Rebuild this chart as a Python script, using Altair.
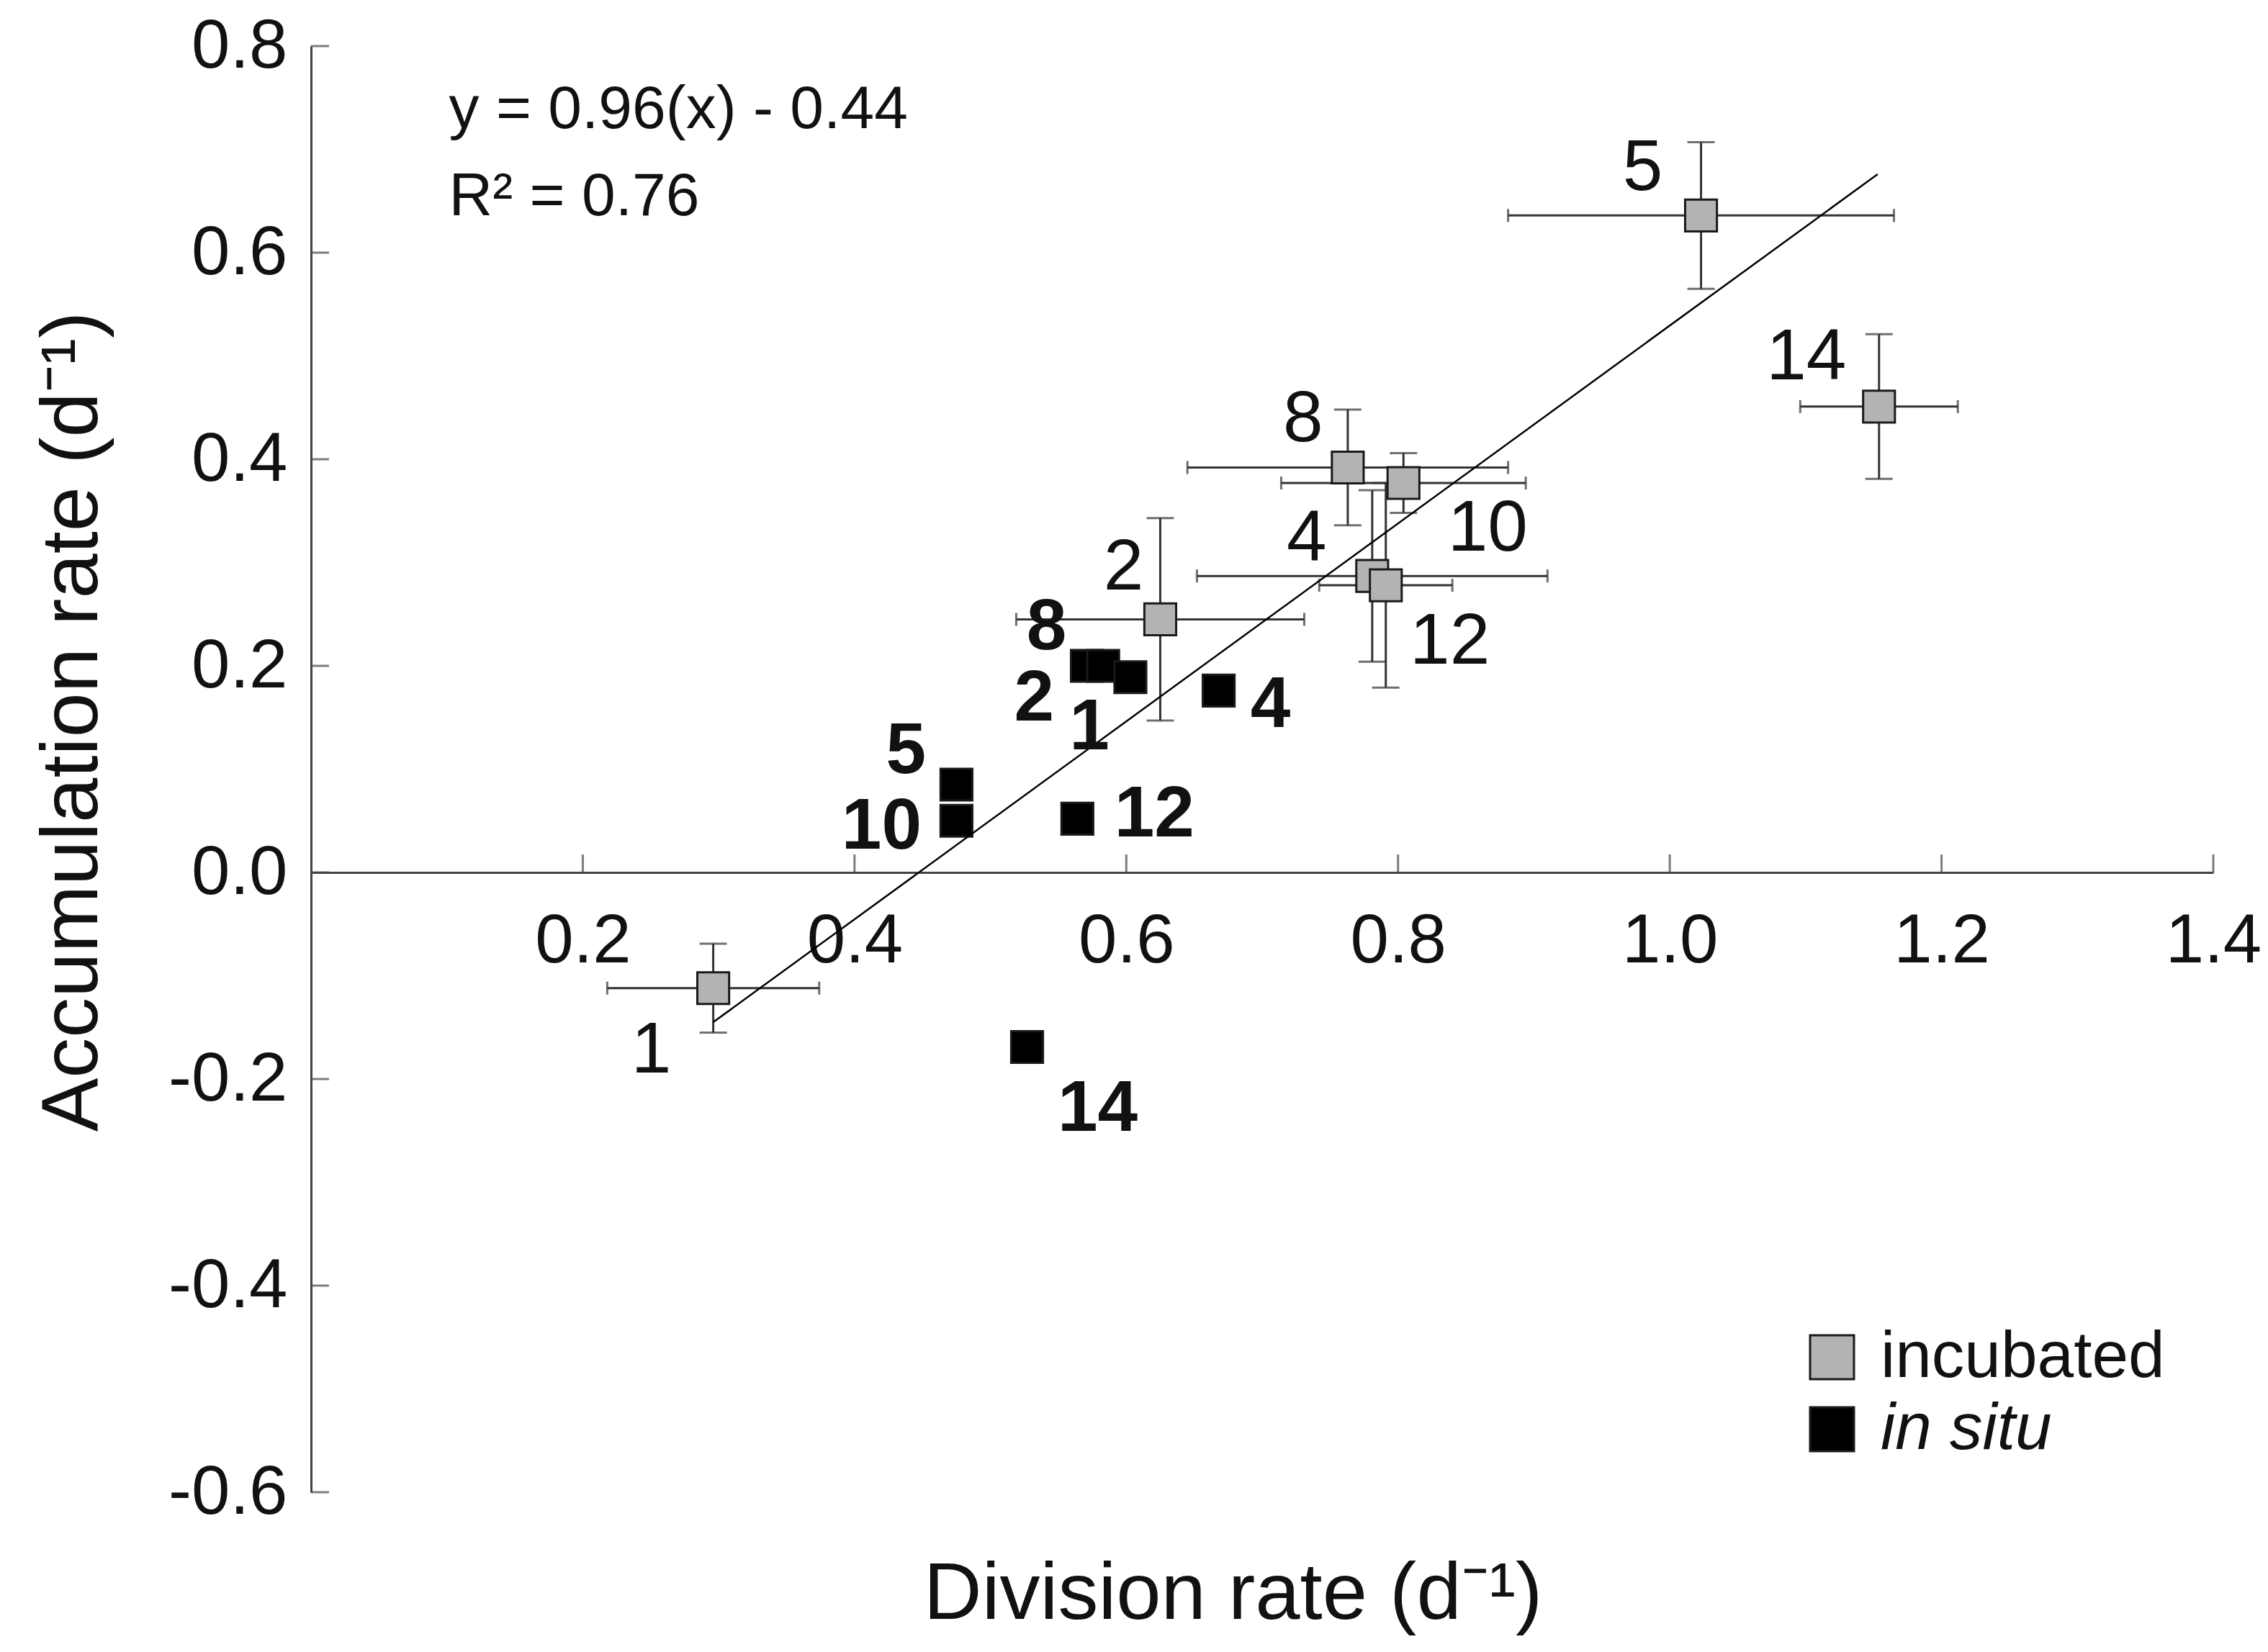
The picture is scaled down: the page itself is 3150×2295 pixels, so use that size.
import altair as alt
import pandas as pd

# ---------------- data ----------------
inc_labels = ["1", "2", "4", "5", "8", "10", "12", "14"]
inc_x = [0.296, 0.625, 0.781, 1.023, 0.763, 0.804, 0.791, 1.154]
inc_y = [-0.112, 0.245, 0.287, 0.636, 0.392, 0.377, 0.278, 0.451]
inc_xerr = [0.078, 0.106, 0.129, 0.142, 0.118, 0.090, 0.049, 0.058]
inc_yerr = [0.043, 0.098, 0.083, 0.071, 0.056, 0.029, 0.099, 0.070]

situ_labels = ["8", "2", "1", "4", "5", "10", "12", "14"]
situ_x = [0.571, 0.583, 0.603, 0.668, 0.475, 0.475, 0.564, 0.527]
situ_y = [0.200, 0.200, 0.189, 0.176, 0.085, 0.050, 0.052, -0.169]

fit_x = [0.296, 1.153]
fit_y = [-0.145, 0.676]

groups = ["incubated", "in situ"]
x_ticks = [0.2, 0.4, 0.6, 0.8, 1.0, 1.2, 1.4]
y_ticks = [-0.6, -0.4, -0.2, 0.0, 0.2, 0.4, 0.6, 0.8]
annot_text = ["y = 0.96(x) - 0.44", "R\u00b2 = 0.76"]
x_title = "Division rate (d\u207b\u00b9)"
y_title = "Accumulation rate (d\u207b\u00b9)"

# ---------------- layout / style ----------------
W, H = 2642, 2009
XDOM = [0.0, 1.4]
YDOM = [-0.6, 0.8]
PX_X = W / (XDOM[1] - XDOM[0])
PX_Y = H / (YDOM[1] - YDOM[0])
FONT = "Liberation Sans, Arial, Helvetica, sans-serif"
AX = "#444444"
EB = "#333333"
GRAY = "#b3b3b3"

# label offsets (pixels, from marker centre to label centre)
inc_off = {"1": (-86, 81), "2": (-51, -77), "4": (-91, -57), "5": (-81, -71),
           "8": (-62, -72), "10": (117, 58), "12": (89, 73), "14": (-101, -74)}
situ_off = {"8": (-56, -59), "2": (-96, 40), "1": (-57, 64), "4": (72, 15),
            "5": (-70, -52), "10": (-104, 3), "12": (107, -11), "14": (98, 80)}

xs = alt.Scale(domain=XDOM, nice=False, zero=False)
ys = alt.Scale(domain=YDOM, nice=False, zero=False)

inc = pd.DataFrame({"lab": inc_labels, "x": inc_x, "y": inc_y,
                    "xe": inc_xerr, "ye": inc_yerr})
inc["xlo"] = inc["x"] - inc["xe"]
inc["xhi"] = inc["x"] + inc["xe"]
inc["ylo"] = inc["y"] - inc["ye"]
inc["yhi"] = inc["y"] + inc["ye"]
inc["group"] = groups[0]
inc["lx"] = [x + inc_off[l][0] / PX_X for l, x in zip(inc_labels, inc_x)]
inc["ly"] = [y - inc_off[l][1] / PX_Y for l, y in zip(inc_labels, inc_y)]

situ = pd.DataFrame({"lab": situ_labels, "x": situ_x, "y": situ_y})
situ["group"] = groups[1]
situ["lx"] = [x + situ_off[l][0] / PX_X for l, x in zip(situ_labels, situ_x)]
situ["ly"] = [y - situ_off[l][1] / PX_Y for l, y in zip(situ_labels, situ_y)]

pts = pd.concat([inc[["x", "y", "group"]], situ[["x", "y", "group"]]], ignore_index=True)
fit = pd.DataFrame({"x": fit_x, "y": fit_y})

x_axis = alt.Axis(
    values=x_ticks, format=".1f", offset=-(0 - YDOM[0]) * PX_Y,
    ticks=False, tickSize=0, grid=False, labelPadding=48,
    labelFontSize=96, labelFont=FONT, labelColor="#111111",
    labelFlush=False, labelOverlap=False,
    domainColor=AX, domainWidth=3,
    title=x_title, titleFont=FONT, titleFontSize=112, titleFontWeight="normal",
    titleColor="#111111", titleX=1280, titleY=1002, titleAlign="center",
    titleBaseline="middle",
)
y_axis = alt.Axis(
    values=y_ticks, format=".1f", labelExpr="replace(datum.label, '\u2212', '-')",
    ticks=False, tickSize=0, grid=False, labelPadding=33,
    labelFontSize=96, labelFont=FONT, labelColor="#111111",
    labelFlush=False, labelOverlap=False,
    domainColor=AX, domainWidth=3,
    title=y_title, titleFont=FONT, titleFontSize=112, titleFontWeight="normal",
    titleColor="#111111", titleX=-332, titleY=938, titleAngle=270,
    titleAlign="center", titleBaseline="middle",
)

X = lambda f: alt.X(f, type="quantitative", scale=xs, axis=x_axis)
Y = lambda f: alt.Y(f, type="quantitative", scale=ys, axis=y_axis)

base_inc = alt.Chart(inc)

vbars = base_inc.mark_rule(color=EB, strokeWidth=3).encode(
    x=X("x"), y=Y("ylo"), y2="yhi")
hbars = base_inc.mark_rule(color=EB, strokeWidth=3).encode(
    x=X("xlo"), x2="xhi", y=Y("y"))
vcap_lo = base_inc.mark_tick(orient="horizontal", size=38, thickness=3, color=EB).encode(
    x=X("x"), y=Y("ylo"))
vcap_hi = base_inc.mark_tick(orient="horizontal", size=38, thickness=3, color=EB).encode(
    x=X("x"), y=Y("yhi"))
hcap_lo = base_inc.mark_tick(orient="vertical", size=18, thickness=3, color=EB).encode(
    x=X("xlo"), y=Y("y"))
hcap_hi = base_inc.mark_tick(orient="vertical", size=18, thickness=3, color=EB).encode(
    x=X("xhi"), y=Y("y"))

points = alt.Chart(pts).mark_square(
    size=1950, opacity=1, stroke="#1a1a1a", strokeWidth=3
).encode(
    x=X("x"), y=Y("y"),
    color=alt.Color(
        "group:N",
        scale=alt.Scale(domain=groups, range=[GRAY, "#000000"]),
        legend=alt.Legend(
            orient="none", legendX=2067, legendY=1776, title=None,
            symbolType="square", symbolSize=3721, symbolStrokeColor="#1a1a1a",
            symbolStrokeWidth=3, symbolOpacity=1,
            labelFontSize=91, labelFont=FONT, labelColor="#111111",
            labelOffset=22, labelLimit=1000, rowPadding=8, padding=0,
            labelFontStyle={"expr": "datum.label == 'in situ' ? 'italic' : 'normal'"},
        ),
    ),
)

line = alt.Chart(fit).mark_line(color="#000000", strokeWidth=2.5).encode(
    x=X("x"), y=Y("y"))

inc_text = base_inc.mark_text(
    fontSize=100, font=FONT, color="#111111", align="center", baseline="middle", dy=6
).encode(x=X("lx"), y=Y("ly"), text="lab:N")
situ_text = alt.Chart(situ).mark_text(
    fontSize=100, font=FONT, fontWeight="bold", color="#111111",
    align="center", baseline="middle", dy=6
).encode(x=X("lx"), y=Y("ly"), text="lab:N")

xt = alt.Chart(pd.DataFrame({"t": x_ticks})).mark_tick(
    orient="vertical", size=25, thickness=3, color=AX, yOffset=-12.5
).encode(x=X("t"), y=alt.datum(0))
yt = alt.Chart(pd.DataFrame({"t": y_ticks})).mark_tick(
    orient="horizontal", size=25, thickness=3, color=AX, xOffset=12.5
).encode(y=Y("t"), x=alt.datum(0))

annot = alt.Chart(pd.DataFrame({"t": annot_text, "ax": [0.1015, 0.1015],
                                "ay": [0.738, 0.654]})).mark_text(
    fontSize=84, font=FONT, color="#111111", align="left", baseline="middle"
).encode(x=X("ax"), y=Y("ay"), text="t:N")

chart = alt.layer(
    xt, yt, vbars, hbars, vcap_lo, vcap_hi, hcap_lo, hcap_hi,
    points, line, inc_text, situ_text, annot
).properties(
    width=W, height=H,
    padding={"left": 424, "top": 56, "right": 68, "bottom": 214},
    autosize=alt.AutoSizeParams(type="none"),
    background="white",
).configure_view(stroke=None)

chart.save("out.html", embed_options={"renderer": "svg", "actions": False})
